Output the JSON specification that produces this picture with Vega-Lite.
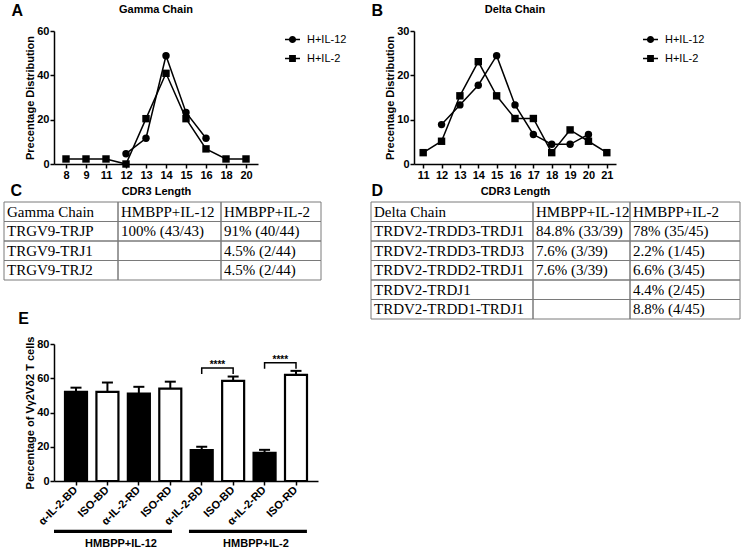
{
  "$schema": "https://vega.github.io/schema/vega-lite/v6.json",
  "background": "white",
  "padding": {"left": 3, "top": 3, "right": 0, "bottom": 0},
  "config": {
    "font": "Liberation Sans",
    "view": {"stroke": null},
    "axis": {"domainColor": "black", "domainWidth": 1.5, "tickColor": "black", "tickWidth": 1.5, "tickSize": 4, "labelColor": "black", "labelFontWeight": "bold", "labelFontSize": 11, "labelPadding": 1, "titleColor": "black", "titleFontWeight": "bold", "titleFontSize": 11, "titlePadding": 1.5, "grid": false, "minExtent": 0},
    "legend": {"labelFontSize": 11, "labelFontWeight": "normal", "labelColor": "black", "symbolSize": 100, "labelOffset": 9, "rowPadding": 7, "padding": 3, "offset": 26, "symbolStrokeColor": "black", "symbolStrokeWidth": 0, "symbolFillColor": "black", "symbolOpacity": 1},
    "title": {"color": "black", "fontWeight": "bold", "font": "Liberation Sans"}
  },
  "datasets": {
    "gamma": [
      {"series": "H+IL-12", "len": 12, "pct": 4.65},
      {"series": "H+IL-12", "len": 13, "pct": 11.63},
      {"series": "H+IL-12", "len": 14, "pct": 48.84},
      {"series": "H+IL-12", "len": 15, "pct": 23.26},
      {"series": "H+IL-12", "len": 16, "pct": 11.63},
      {"series": "H+IL-2", "len": 8, "pct": 2.27},
      {"series": "H+IL-2", "len": 9, "pct": 2.27},
      {"series": "H+IL-2", "len": 11, "pct": 2.27},
      {"series": "H+IL-2", "len": 12, "pct": 0},
      {"series": "H+IL-2", "len": 13, "pct": 20.45},
      {"series": "H+IL-2", "len": 14, "pct": 40.91},
      {"series": "H+IL-2", "len": 15, "pct": 20.45},
      {"series": "H+IL-2", "len": 16, "pct": 6.82},
      {"series": "H+IL-2", "len": 18, "pct": 2.27},
      {"series": "H+IL-2", "len": 20, "pct": 2.27}
    ],
    "delta": [
      {"series": "H+IL-12", "len": 12, "pct": 8.89},
      {"series": "H+IL-12", "len": 13, "pct": 13.33},
      {"series": "H+IL-12", "len": 14, "pct": 17.78},
      {"series": "H+IL-12", "len": 15, "pct": 24.44},
      {"series": "H+IL-12", "len": 16, "pct": 13.33},
      {"series": "H+IL-12", "len": 17, "pct": 6.67},
      {"series": "H+IL-12", "len": 18, "pct": 4.44},
      {"series": "H+IL-12", "len": 19, "pct": 4.44},
      {"series": "H+IL-12", "len": 20, "pct": 6.67},
      {"series": "H+IL-2", "len": 11, "pct": 2.56},
      {"series": "H+IL-2", "len": 12, "pct": 5.13},
      {"series": "H+IL-2", "len": 13, "pct": 15.38},
      {"series": "H+IL-2", "len": 14, "pct": 23.08},
      {"series": "H+IL-2", "len": 15, "pct": 15.38},
      {"series": "H+IL-2", "len": 16, "pct": 10.26},
      {"series": "H+IL-2", "len": 17, "pct": 10.26},
      {"series": "H+IL-2", "len": 18, "pct": 2.56},
      {"series": "H+IL-2", "len": 19, "pct": 7.69},
      {"series": "H+IL-2", "len": 20, "pct": 5.13},
      {"series": "H+IL-2", "len": 21, "pct": 2.56}
    ],
    "tabC": [
      {"col": 1, "row": 1, "text": "Gamma Chain"},
      {"col": 1, "row": 2, "text": "TRGV9-TRJP"},
      {"col": 1, "row": 3, "text": "TRGV9-TRJ1"},
      {"col": 1, "row": 4, "text": "TRGV9-TRJ2"},
      {"col": 2, "row": 1, "text": "HMBPP+IL-12"},
      {"col": 2, "row": 2, "text": "100% (43/43)"},
      {"col": 2, "row": 3, "text": ""},
      {"col": 2, "row": 4, "text": ""},
      {"col": 3, "row": 1, "text": "HMBPP+IL-2"},
      {"col": 3, "row": 2, "text": "91% (40/44)"},
      {"col": 3, "row": 3, "text": "4.5% (2/44)"},
      {"col": 3, "row": 4, "text": "4.5% (2/44)"}
    ],
    "tabD": [
      {"col": 1, "row": 1, "text": "Delta Chain"},
      {"col": 1, "row": 2, "text": "TRDV2-TRDD3-TRDJ1"},
      {"col": 1, "row": 3, "text": "TRDV2-TRDD3-TRDJ3"},
      {"col": 1, "row": 4, "text": "TRDV2-TRDD2-TRDJ1"},
      {"col": 1, "row": 5, "text": "TRDV2-TRDJ1"},
      {"col": 1, "row": 6, "text": "TRDV2-TRDD1-TRDJ1"},
      {"col": 2, "row": 1, "text": "HMBPP+IL-12"},
      {"col": 2, "row": 2, "text": "84.8% (33/39)"},
      {"col": 2, "row": 3, "text": "7.6% (3/39)"},
      {"col": 2, "row": 4, "text": "7.6% (3/39)"},
      {"col": 2, "row": 5, "text": ""},
      {"col": 2, "row": 6, "text": ""},
      {"col": 3, "row": 1, "text": "HMBPP+IL-2"},
      {"col": 3, "row": 2, "text": "78% (35/45)"},
      {"col": 3, "row": 3, "text": "2.2% (1/45)"},
      {"col": 3, "row": 4, "text": "6.6% (3/45)"},
      {"col": 3, "row": 5, "text": "4.4% (2/45)"},
      {"col": 3, "row": 6, "text": "8.8% (4/45)"}
    ],
    "bars": [
      {"id": 1, "group": "HMBPP+IL-12", "treat": "anti", "mean": 52, "hi": 54.5},
      {"id": 2, "group": "HMBPP+IL-12", "treat": "iso", "mean": 52, "hi": 57.5},
      {"id": 3, "group": "HMBPP+IL-12", "treat": "anti", "mean": 51, "hi": 55},
      {"id": 4, "group": "HMBPP+IL-12", "treat": "iso", "mean": 54, "hi": 58},
      {"id": 5, "group": "HMBPP+IL-2", "treat": "anti", "mean": 18, "hi": 20},
      {"id": 6, "group": "HMBPP+IL-2", "treat": "iso", "mean": 58.5, "hi": 61},
      {"id": 7, "group": "HMBPP+IL-2", "treat": "anti", "mean": 16.5, "hi": 18.2},
      {"id": 8, "group": "HMBPP+IL-2", "treat": "iso", "mean": 62, "hi": 64.3}
    ],
    "brackets": [
      {"b": 1, "o": 1, "id": 5, "y": 62.5},
      {"b": 1, "o": 2, "id": 5, "y": 66},
      {"b": 1, "o": 3, "id": 6, "y": 66},
      {"b": 1, "o": 4, "id": 6, "y": 62.5},
      {"b": 2, "o": 1, "id": 7, "y": 65.5},
      {"b": 2, "o": 2, "id": 7, "y": 69},
      {"b": 2, "o": 3, "id": 8, "y": 69},
      {"b": 2, "o": 4, "id": 8, "y": 65.5}
    ],
    "groups": [
      {"group": "HMBPP+IL-12"},
      {"group": "HMBPP+IL-2"}
    ],
    "blank": [{}]
  },
  "resolve": {"legend": {"shape": "independent"}},
  "vconcat": [
    {
      "resolve": {"legend": {"shape": "independent"}},
      "vconcat": [
        {
          "resolve": {"legend": {"shape": "independent"}},
          "hconcat": [
            {
              "resolve": {"legend": {"shape": "independent"}},
              "hconcat": [
                {"width": 19, "height": 1, "data": {"name": "blank"}, "mark": {"type": "point", "opacity": 0, "size": 1},
                 "title": {"text": "A", "anchor": "end", "frame": "group", "fontSize": 16, "baseline": "bottom", "offset": -4}},
                {
                  "width": 204, "height": 133,
                  "title": {"text": "Gamma Chain", "frame": "group", "offset": 10, "fontSize": 11},
                  "data": {"name": "gamma"},
                  "layer": [
                    {"mark": {"type": "line", "color": "black", "strokeWidth": 1.5},
                     "encoding": {
                       "x": {"field": "len", "type": "ordinal", "scale": {"type": "point", "padding": 0.6, "domain": [8, 9, 11, 12, 13, 14, 15, 16, 18, 20]}, "axis": {"title": "CDR3 Length", "labelAngle": 0, "titlePadding": 5}},
                       "y": {"field": "pct", "type": "quantitative", "scale": {"domain": [0, 60]}, "axis": {"values": [0, 20, 40, 60], "title": "Precentage Distribution"}},
                       "detail": {"field": "series"}
                     }},
                    {"mark": {"type": "point", "filled": true, "color": "black", "opacity": 0},
                     "encoding": {
                       "x": {"field": "len", "type": "ordinal", "scale": {"type": "point", "padding": 0.6, "domain": [8, 9, 11, 12, 13, 14, 15, 16, 18, 20]}, "axis": {"title": "CDR3 Length", "labelAngle": 0, "titlePadding": 5}},
                       "y": {"field": "pct", "type": "quantitative", "scale": {"domain": [0, 60]}, "axis": {"values": [0, 20, 40, 60], "title": "Precentage Distribution"}},
                       "shape": {"field": "series", "type": "nominal", "scale": {"domain": ["H+IL-12", "H+IL-2"], "range": ["M-1.5,-0.15H-0.5V0.15H-1.5ZM0.5,-0.15H1.5V0.15H0.5ZM0.72,0A0.72,0.72,0,1,1,-0.72,0A0.72,0.72,0,1,1,0.72,0Z", "M-1.5,-0.15H-0.5V0.15H-1.5ZM0.5,-0.15H1.5V0.15H0.5ZM-0.68,-0.68H0.68V0.68H-0.68Z"]}, "legend": {"title": null, "symbolOpacity": 1, "symbolFillColor": "black", "symbolStrokeWidth": 0}}
                     }},
                    {"transform": [{"filter": "datum.series === 'H+IL-12'"}],
                     "mark": {"type": "point", "shape": "circle", "filled": true, "color": "black", "opacity": 1, "size": 55},
                     "encoding": {
                       "x": {"field": "len", "type": "ordinal", "scale": {"type": "point", "padding": 0.6, "domain": [8, 9, 11, 12, 13, 14, 15, 16, 18, 20]}, "axis": {"title": "CDR3 Length", "labelAngle": 0, "titlePadding": 5}},
                       "y": {"field": "pct", "type": "quantitative", "scale": {"domain": [0, 60]}, "axis": {"values": [0, 20, 40, 60], "title": "Precentage Distribution"}}
                     }},
                    {"transform": [{"filter": "datum.series === 'H+IL-2'"}],
                     "mark": {"type": "point", "shape": "square", "filled": true, "color": "black", "opacity": 1, "size": 55},
                     "encoding": {
                       "x": {"field": "len", "type": "ordinal", "scale": {"type": "point", "padding": 0.6, "domain": [8, 9, 11, 12, 13, 14, 15, 16, 18, 20]}, "axis": {"title": "CDR3 Length", "labelAngle": 0, "titlePadding": 5}},
                       "y": {"field": "pct", "type": "quantitative", "scale": {"domain": [0, 60]}, "axis": {"values": [0, 20, 40, 60], "title": "Precentage Distribution"}}
                     }}
                  ]
                }
              ],
              "spacing": 1
            },
            {
              "resolve": {"legend": {"shape": "independent"}},
              "hconcat": [
                {"width": 12, "height": 1, "data": {"name": "blank"}, "mark": {"type": "point", "opacity": 0, "size": 1},
                 "title": {"text": "B", "anchor": "end", "frame": "group", "fontSize": 16, "baseline": "bottom", "offset": -4}},
                {
                  "width": 202, "height": 133,
                  "title": {"text": "Delta Chain", "frame": "group", "offset": 10, "fontSize": 11},
                  "data": {"name": "delta"},
                  "layer": [
                    {"mark": {"type": "line", "color": "black", "strokeWidth": 1.5},
                     "encoding": {
                       "x": {"field": "len", "type": "ordinal", "scale": {"type": "point", "padding": 0.5, "domain": [11, 12, 13, 14, 15, 16, 17, 18, 19, 20, 21]}, "axis": {"title": "CDR3 Length", "labelAngle": 0, "titlePadding": 5}},
                       "y": {"field": "pct", "type": "quantitative", "scale": {"domain": [0, 30]}, "axis": {"values": [0, 10, 20, 30], "title": "Precentage Distribution"}},
                       "detail": {"field": "series"}
                     }},
                    {"mark": {"type": "point", "filled": true, "color": "black", "opacity": 0},
                     "encoding": {
                       "x": {"field": "len", "type": "ordinal", "scale": {"type": "point", "padding": 0.5, "domain": [11, 12, 13, 14, 15, 16, 17, 18, 19, 20, 21]}, "axis": {"title": "CDR3 Length", "labelAngle": 0, "titlePadding": 5}},
                       "y": {"field": "pct", "type": "quantitative", "scale": {"domain": [0, 30]}, "axis": {"values": [0, 10, 20, 30], "title": "Precentage Distribution"}},
                       "shape": {"field": "series", "type": "nominal", "scale": {"domain": ["H+IL-12", "H+IL-2"], "range": ["M-1.5,-0.15H-0.5V0.15H-1.5ZM0.5,-0.15H1.5V0.15H0.5ZM0.72,0A0.72,0.72,0,1,1,-0.72,0A0.72,0.72,0,1,1,0.72,0Z", "M-1.5,-0.15H-0.5V0.15H-1.5ZM0.5,-0.15H1.5V0.15H0.5ZM-0.68,-0.68H0.68V0.68H-0.68Z"]}, "legend": {"title": null, "symbolOpacity": 1, "symbolFillColor": "black", "symbolStrokeWidth": 0}}
                     }},
                    {"transform": [{"filter": "datum.series === 'H+IL-12'"}],
                     "mark": {"type": "point", "shape": "circle", "filled": true, "color": "black", "opacity": 1, "size": 55},
                     "encoding": {
                       "x": {"field": "len", "type": "ordinal", "scale": {"type": "point", "padding": 0.5, "domain": [11, 12, 13, 14, 15, 16, 17, 18, 19, 20, 21]}, "axis": {"title": "CDR3 Length", "labelAngle": 0, "titlePadding": 5}},
                       "y": {"field": "pct", "type": "quantitative", "scale": {"domain": [0, 30]}, "axis": {"values": [0, 10, 20, 30], "title": "Precentage Distribution"}}
                     }},
                    {"transform": [{"filter": "datum.series === 'H+IL-2'"}],
                     "mark": {"type": "point", "shape": "square", "filled": true, "color": "black", "opacity": 1, "size": 55},
                     "encoding": {
                       "x": {"field": "len", "type": "ordinal", "scale": {"type": "point", "padding": 0.5, "domain": [11, 12, 13, 14, 15, 16, 17, 18, 19, 20, 21]}, "axis": {"title": "CDR3 Length", "labelAngle": 0, "titlePadding": 5}},
                       "y": {"field": "pct", "type": "quantitative", "scale": {"domain": [0, 30]}, "axis": {"values": [0, 10, 20, 30], "title": "Precentage Distribution"}}
                     }}
                  ]
                }
              ],
              "spacing": 1
            }
          ],
          "spacing": 21
        },
        {
          "hconcat": [
            {
              "title": {"text": "C", "anchor": "start", "fontSize": 16, "dx": 7, "offset": 3},
              "hconcat": [
                {"width": 114, "height": 78, "data": {"name": "tabC"}, "transform": [{"filter": "datum.col == 1"}],
                 "layer": [
                   {"mark": {"type": "rect", "fill": "transparent", "stroke": "#7a7a7a", "strokeWidth": 1},
                    "encoding": {"y": {"field": "row", "type": "ordinal", "axis": null, "scale": {"type": "band", "paddingInner": 0, "paddingOuter": 0}}, "x": {"datum": 0, "type": "quantitative", "scale": {"domain": [0, 1]}, "axis": null}, "x2": {"datum": 1}}},
                   {"mark": {"type": "text", "align": "left", "dx": 3, "font": "Liberation Serif", "fontSize": 15, "color": "black"},
                    "encoding": {"y": {"field": "row", "type": "ordinal", "axis": null, "scale": {"type": "band", "paddingInner": 0, "paddingOuter": 0}}, "x": {"datum": 0, "type": "quantitative", "scale": {"domain": [0, 1]}, "axis": null}, "text": {"field": "text"}}}
                 ]},
                {"width": 103, "height": 78, "data": {"name": "tabC"}, "transform": [{"filter": "datum.col == 2"}],
                 "layer": [
                   {"mark": {"type": "rect", "fill": "transparent", "stroke": "#7a7a7a", "strokeWidth": 1},
                    "encoding": {"y": {"field": "row", "type": "ordinal", "axis": null, "scale": {"type": "band", "paddingInner": 0, "paddingOuter": 0}}, "x": {"datum": 0, "type": "quantitative", "scale": {"domain": [0, 1]}, "axis": null}, "x2": {"datum": 1}}},
                   {"mark": {"type": "text", "align": "left", "dx": 3, "font": "Liberation Serif", "fontSize": 15, "color": "black"},
                    "encoding": {"y": {"field": "row", "type": "ordinal", "axis": null, "scale": {"type": "band", "paddingInner": 0, "paddingOuter": 0}}, "x": {"datum": 0, "type": "quantitative", "scale": {"domain": [0, 1]}, "axis": null}, "text": {"field": "text"}}}
                 ]},
                {"width": 100, "height": 78, "data": {"name": "tabC"}, "transform": [{"filter": "datum.col == 3"}],
                 "layer": [
                   {"mark": {"type": "rect", "fill": "transparent", "stroke": "#7a7a7a", "strokeWidth": 1},
                    "encoding": {"y": {"field": "row", "type": "ordinal", "axis": null, "scale": {"type": "band", "paddingInner": 0, "paddingOuter": 0}}, "x": {"datum": 0, "type": "quantitative", "scale": {"domain": [0, 1]}, "axis": null}, "x2": {"datum": 1}}},
                   {"mark": {"type": "text", "align": "left", "dx": 3, "font": "Liberation Serif", "fontSize": 15, "color": "black"},
                    "encoding": {"y": {"field": "row", "type": "ordinal", "axis": null, "scale": {"type": "band", "paddingInner": 0, "paddingOuter": 0}}, "x": {"datum": 0, "type": "quantitative", "scale": {"domain": [0, 1]}, "axis": null}, "text": {"field": "text"}}}
                 ]}
              ],
              "spacing": 0,
              "bounds": "flush"
            },
            {
              "title": {"text": "D", "anchor": "start", "fontSize": 16, "dx": 1, "offset": 3},
              "hconcat": [
                {"width": 162, "height": 117, "data": {"name": "tabD"}, "transform": [{"filter": "datum.col == 1"}],
                 "layer": [
                   {"mark": {"type": "rect", "fill": "transparent", "stroke": "#7a7a7a", "strokeWidth": 1},
                    "encoding": {"y": {"field": "row", "type": "ordinal", "axis": null, "scale": {"type": "band", "paddingInner": 0, "paddingOuter": 0}}, "x": {"datum": 0, "type": "quantitative", "scale": {"domain": [0, 1]}, "axis": null}, "x2": {"datum": 1}}},
                   {"mark": {"type": "text", "align": "left", "dx": 3, "font": "Liberation Serif", "fontSize": 15, "color": "black"},
                    "encoding": {"y": {"field": "row", "type": "ordinal", "axis": null, "scale": {"type": "band", "paddingInner": 0, "paddingOuter": 0}}, "x": {"datum": 0, "type": "quantitative", "scale": {"domain": [0, 1]}, "axis": null}, "text": {"field": "text"}}}
                 ]},
                {"width": 97, "height": 117, "data": {"name": "tabD"}, "transform": [{"filter": "datum.col == 2"}],
                 "layer": [
                   {"mark": {"type": "rect", "fill": "transparent", "stroke": "#7a7a7a", "strokeWidth": 1},
                    "encoding": {"y": {"field": "row", "type": "ordinal", "axis": null, "scale": {"type": "band", "paddingInner": 0, "paddingOuter": 0}}, "x": {"datum": 0, "type": "quantitative", "scale": {"domain": [0, 1]}, "axis": null}, "x2": {"datum": 1}}},
                   {"mark": {"type": "text", "align": "left", "dx": 3, "font": "Liberation Serif", "fontSize": 15, "color": "black"},
                    "encoding": {"y": {"field": "row", "type": "ordinal", "axis": null, "scale": {"type": "band", "paddingInner": 0, "paddingOuter": 0}}, "x": {"datum": 0, "type": "quantitative", "scale": {"domain": [0, 1]}, "axis": null}, "text": {"field": "text"}}}
                 ]},
                {"width": 110, "height": 117, "data": {"name": "tabD"}, "transform": [{"filter": "datum.col == 3"}],
                 "layer": [
                   {"mark": {"type": "rect", "fill": "transparent", "stroke": "#7a7a7a", "strokeWidth": 1},
                    "encoding": {"y": {"field": "row", "type": "ordinal", "axis": null, "scale": {"type": "band", "paddingInner": 0, "paddingOuter": 0}}, "x": {"datum": 0, "type": "quantitative", "scale": {"domain": [0, 1]}, "axis": null}, "x2": {"datum": 1}}},
                   {"mark": {"type": "text", "align": "left", "dx": 3, "font": "Liberation Serif", "fontSize": 15, "color": "black"},
                    "encoding": {"y": {"field": "row", "type": "ordinal", "axis": null, "scale": {"type": "band", "paddingInner": 0, "paddingOuter": 0}}, "x": {"datum": 0, "type": "quantitative", "scale": {"domain": [0, 1]}, "axis": null}, "text": {"field": "text"}}}
                 ]}
              ],
              "spacing": 0,
              "bounds": "flush"
            }
          ],
          "spacing": 48
        }
      ],
      "spacing": -14
    },
    {
      "hconcat": [
        {"width": 25, "height": 1, "data": {"name": "blank"}, "mark": {"type": "point", "opacity": 0, "size": 1},
         "title": {"text": "E", "anchor": "end", "frame": "group", "fontSize": 16, "baseline": "bottom", "offset": 1}},
        {
          "width": 264, "height": 137,
          "resolve": {"scale": {"x": "independent"}},
          "layer": [
            {
              "layer": [
                {"data": {"name": "bars"},
                 "mark": {"type": "bar", "stroke": "black", "strokeWidth": 2.2},
                 "encoding": {
                   "x": {"field": "id", "type": "ordinal", "scale": {"type": "band", "domain": [1, 2, 3, 4, 5, 6, 7, 8], "paddingInner": 0.3, "paddingOuter": 0.35}, "axis": {"title": null, "labelAngle": -45, "labelAlign": "right", "labelBaseline": "middle", "labelFontSize": 11, "labelPadding": 3, "labelExpr": "['α-IL-2-BD','ISO-BD','α-IL-2-RD','ISO-RD','α-IL-2-BD','ISO-BD','α-IL-2-RD','ISO-RD'][datum.value - 1]"}},
                   "y": {"field": "mean", "type": "quantitative", "scale": {"domain": [0, 80]}, "axis": {"values": [0, 20, 40, 60, 80], "title": "Percentage of Vγ2Vδ2 T cells"}},
                   "fill": {"field": "treat", "type": "nominal", "scale": {"domain": ["anti", "iso"], "range": ["black", "white"]}, "legend": null}
                 }},
                {"data": {"name": "bars"},
                 "mark": {"type": "rule", "color": "black", "strokeWidth": 2},
                 "encoding": {
                   "x": {"field": "id", "type": "ordinal", "scale": {"type": "band", "domain": [1, 2, 3, 4, 5, 6, 7, 8], "paddingInner": 0.3, "paddingOuter": 0.35}, "axis": {"title": null, "labelAngle": -45, "labelAlign": "right", "labelBaseline": "middle", "labelFontSize": 11, "labelPadding": 3, "labelExpr": "['α-IL-2-BD','ISO-BD','α-IL-2-RD','ISO-RD','α-IL-2-BD','ISO-BD','α-IL-2-RD','ISO-RD'][datum.value - 1]"}},
                   "y": {"field": "mean", "type": "quantitative", "scale": {"domain": [0, 80]}, "axis": {"values": [0, 20, 40, 60, 80], "title": "Percentage of Vγ2Vδ2 T cells"}},
                   "y2": {"field": "hi"}
                 }},
                {"data": {"name": "bars"},
                 "mark": {"type": "tick", "orient": "horizontal", "color": "black", "size": 11, "thickness": 2, "opacity": 1},
                 "encoding": {
                   "x": {"field": "id", "type": "ordinal", "scale": {"type": "band", "domain": [1, 2, 3, 4, 5, 6, 7, 8], "paddingInner": 0.3, "paddingOuter": 0.35}, "axis": {"title": null, "labelAngle": -45, "labelAlign": "right", "labelBaseline": "middle", "labelFontSize": 11, "labelPadding": 3, "labelExpr": "['α-IL-2-BD','ISO-BD','α-IL-2-RD','ISO-RD','α-IL-2-BD','ISO-BD','α-IL-2-RD','ISO-RD'][datum.value - 1]"}},
                   "y": {"field": "hi", "type": "quantitative", "scale": {"domain": [0, 80]}, "axis": {"values": [0, 20, 40, 60, 80], "title": "Percentage of Vγ2Vδ2 T cells"}}
                 }},
                {"data": {"name": "brackets"},
                 "mark": {"type": "line", "color": "black", "strokeWidth": 1.5},
                 "encoding": {
                   "x": {"field": "id", "type": "ordinal", "scale": {"type": "band", "domain": [1, 2, 3, 4, 5, 6, 7, 8], "paddingInner": 0.3, "paddingOuter": 0.35}, "axis": {"title": null, "labelAngle": -45, "labelAlign": "right", "labelBaseline": "middle", "labelFontSize": 11, "labelPadding": 3, "labelExpr": "['α-IL-2-BD','ISO-BD','α-IL-2-RD','ISO-RD','α-IL-2-BD','ISO-BD','α-IL-2-RD','ISO-RD'][datum.value - 1]"}},
                   "y": {"field": "y", "type": "quantitative", "scale": {"domain": [0, 80]}, "axis": {"values": [0, 20, 40, 60, 80], "title": "Percentage of Vγ2Vδ2 T cells"}},
                   "detail": {"field": "b"},
                   "order": {"field": "o"}
                 }},
                {"data": {"name": "brackets"},
                 "transform": [{"filter": "datum.o == 2"}],
                 "mark": {"type": "text", "color": "black", "fontSize": 10, "fontWeight": "bold", "baseline": "bottom", "dx": 15.7, "dy": 2},
                 "encoding": {
                   "x": {"field": "id", "type": "ordinal", "scale": {"type": "band", "domain": [1, 2, 3, 4, 5, 6, 7, 8], "paddingInner": 0.3, "paddingOuter": 0.35}, "axis": {"title": null, "labelAngle": -45, "labelAlign": "right", "labelBaseline": "middle", "labelFontSize": 11, "labelPadding": 3, "labelExpr": "['α-IL-2-BD','ISO-BD','α-IL-2-RD','ISO-RD','α-IL-2-BD','ISO-BD','α-IL-2-RD','ISO-RD'][datum.value - 1]"}},
                   "y": {"field": "y", "type": "quantitative", "scale": {"domain": [0, 80]}, "axis": {"values": [0, 20, 40, 60, 80], "title": "Percentage of Vγ2Vδ2 T cells"}},
                   "text": {"value": "****"}
                 }}
              ]
            },
            {
              "data": {"name": "groups"},
              "layer": [
                {"mark": {"type": "bar", "color": "black"},
                 "encoding": {
                   "x": {"field": "group", "type": "nominal", "scale": {"type": "band", "domain": ["HMBPP+IL-12", "HMBPP+IL-2"], "paddingInner": 0.126, "paddingOuter": 0.041, "align": 0}, "axis": null},
                   "y": {"datum": -28.5, "type": "quantitative", "scale": {"domain": [0, 80]}, "axis": {"values": [0, 20, 40, 60, 80], "title": "Percentage of Vγ2Vδ2 T cells"}},
                   "y2": {"datum": -30.3}
                 }},
                {"mark": {"type": "text", "color": "black", "fontSize": 11, "fontWeight": "bold", "dx": 8},
                 "encoding": {
                   "x": {"field": "group", "type": "nominal", "scale": {"type": "band", "domain": ["HMBPP+IL-12", "HMBPP+IL-2"], "paddingInner": 0.126, "paddingOuter": 0.041, "align": 0}, "axis": null},
                   "y": {"datum": -36.5, "type": "quantitative", "scale": {"domain": [0, 80]}, "axis": {"values": [0, 20, 40, 60, 80], "title": "Percentage of Vγ2Vδ2 T cells"}},
                   "text": {"field": "group"}
                 }}
              ]
            }
          ]
        }
      ],
      "spacing": -5
    }
  ],
  "spacing": -9
}
